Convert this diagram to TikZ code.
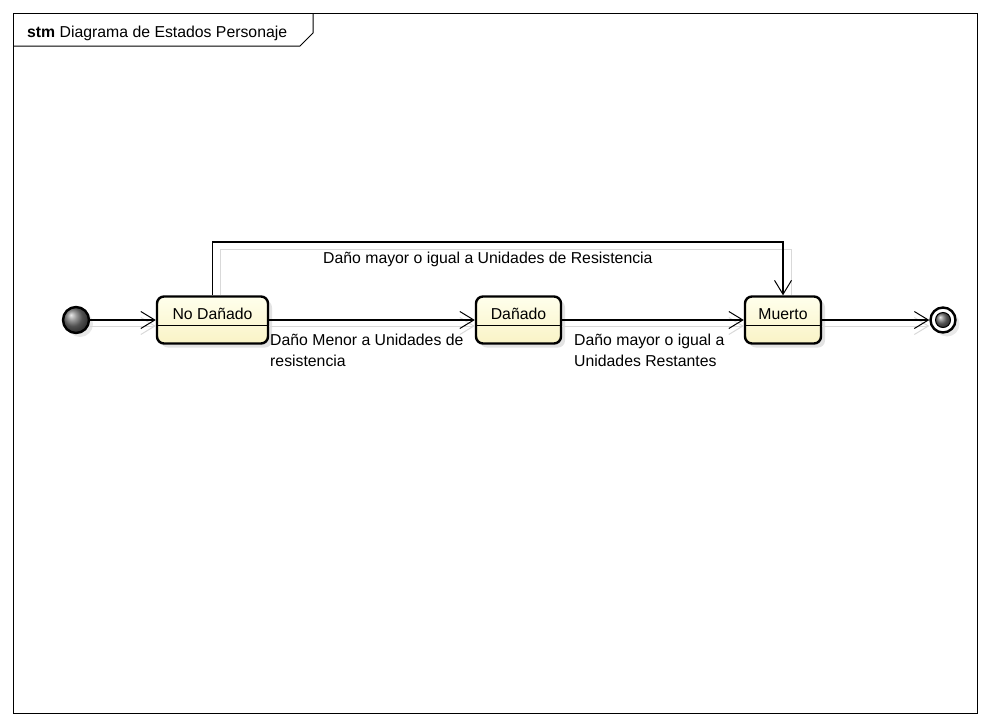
\documentclass[tikz,border=0pt]{standalone}
\usepackage{fontspec}
\setmainfont{Liberation Sans}
\usetikzlibrary{arrows.meta,shadows,calc}
\definecolor{stTop}{HTML}{FFFFEC}
\definecolor{stBot}{HTML}{F9F3C6}
\begin{document}
\begin{tikzpicture}[x=1pt,y=-1pt,
  font=\fontsize{15.8}{20.5}\selectfont,
  state/.style={draw=black, line width=2.4pt, rounded corners=7pt,
    top color=stTop, bottom color=stBot, minimum height=47pt, inner sep=0pt,
    text height=10pt, text depth=11pt,
    drop shadow={shadow xshift=4pt, shadow yshift=-4pt, fill=black!22}},
  pseudo/.style={circle, draw=black, line width=2.4pt, inner sep=0pt,
    drop shadow={shadow xshift=4pt, shadow yshift=-4pt, fill=black!18}},
  tr/.style={draw=black, line width=1.1pt,
    -{Straight Barb[length=14pt,width=17pt,line width=1pt]}},
  shl/.style={draw=black!15, line width=1pt},
  shtr/.style={shl, -{Straight Barb[length=14pt,width=17pt,line width=1pt]}},
  lbl/.style={anchor=north west, align=left, inner sep=0pt}
]
\useasboundingbox (0,0) rectangle (990,726);
% frame
\draw[line width=1pt] (13,13) rectangle (977,713);
\draw[line width=1pt] (13,46) -- (300,46) -- (313,33) -- (313,13);
\node[anchor=base west, inner sep=0pt] (title) at (27,37) {\textbf{stm} Diagrama de Estados Personaje};

% states
\node[state, minimum width=111pt] (nd) at (212.5,320) {No Dañado};
\node[state, minimum width=85pt] (d) at (518.5,320) {Dañado};
\node[state, minimum width=76pt] (m) at (783,320) {Muerto};
\draw[line width=1pt] ($(nd.west)+(0,5)$) -- ($(nd.east)+(0,5)$);
\draw[line width=1pt] ($(d.west)+(0,5)$) -- ($(d.east)+(0,5)$);
\draw[line width=1pt] ($(m.west)+(0,5)$) -- ($(m.east)+(0,5)$);

% pseudostates
\node[pseudo, minimum size=26pt, ball color=black!55] (init) at (76,320) {};
\node[pseudo, minimum size=25pt, fill=white] (fin) at (943,320) {};
\node[circle, draw=black, line width=1pt, inner sep=0pt, minimum size=15pt, ball color=black!55] (finin) at (fin) {};

% connector shadows
\draw[shl] ($(nd.north)+(8,0)$) |- ($(m.north)+(8,-46)$) -- ($(m.north)+(8,0)$);
\draw[shtr] ($(init.east)+(0,6)$) -- ($(nd.west)+(0,6)$);
\draw[shtr] ($(nd.east)+(0,6)$) -- ($(d.west)+(0,6)$);
\draw[shtr] ($(d.east)+(0,6)$) -- ($(m.west)+(0,6)$);
\draw[shtr] ($(m.east)+(0,6)$) -- ($(fin.west)+(0,6)$);

% transitions
\draw[tr] (init) -- (nd);
\draw[tr] (nd) -- (d);
\draw[tr] (d) -- (m);
\draw[tr] (m) -- (fin);
\draw[tr] (nd.north) -- (nd.north |- 0,242) -- (m.north |- 0,242) -- (m.north);

% labels
\node[lbl] (l1) at (270,334) {Daño Menor a Unidades de\\resistencia};
\node[lbl] (l2) at (574,334) {Daño mayor o igual a\\Unidades Restantes};
\node[anchor=base west, inner sep=0pt] (l3) at (323,263) {Daño mayor o igual a Unidades de Resistencia};
\end{tikzpicture}
\end{document}
